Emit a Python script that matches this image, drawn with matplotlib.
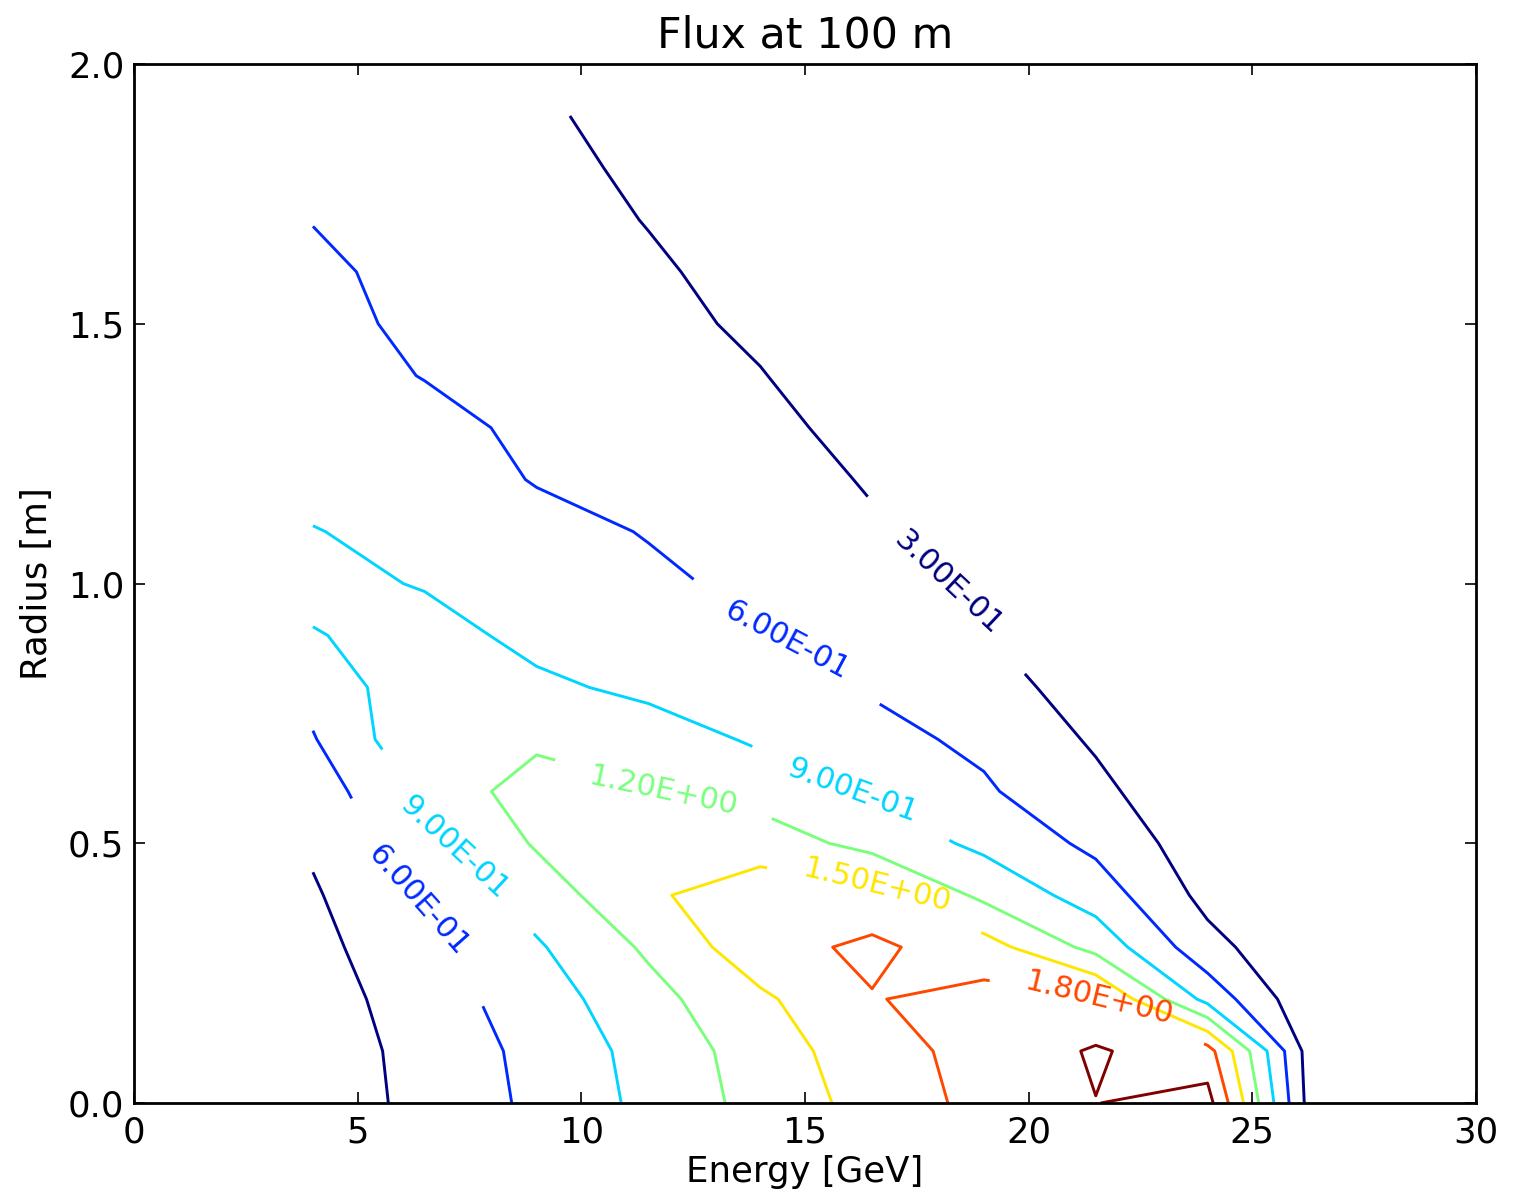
import numpy as np
import matplotlib
matplotlib.use("Agg")
import matplotlib.pyplot as plt

# ---- data ----
energy = [4.0, 6.5, 9.0, 11.5, 14.0, 16.5, 19.0, 21.5, 24.0, 26.5]          # GeV
radius = [0.0, 0.1, 0.2, 0.3, 0.4, 0.5, 0.6, 0.7, 0.8, 0.9,
          1.0, 1.1, 1.2, 1.3, 1.4, 1.5, 1.6, 1.7, 1.8, 1.9]                  # m

# flux[i][j] : radius[i], energy[j]
flux = [
    [0.120, 0.387, 0.661, 0.977, 1.302, 1.611, 1.890, 2.095, 2.210, 0.0],
    [0.133, 0.401, 0.684, 1.005, 1.337, 1.680, 1.900, 2.131, 1.923, 0.0],
    [0.163, 0.449, 0.757, 1.098, 1.446, 1.785, 1.900, 1.850, 0.800, 0.0],
    [0.211, 0.528, 0.866, 1.247, 1.690, 1.860, 1.630, 1.100, 0.400, 0.0],
    [0.266, 0.633, 1.035, 1.455, 1.670, 1.610, 1.130, 0.760, 0.210, 0.0],
    [0.343, 0.806, 1.232, 1.380, 1.360, 1.100, 0.830, 0.530, 0.120, 0.0],
    [0.437, 0.958, 1.364, 1.216, 1.080, 0.865, 0.637, 0.372, 0.050, 0.0],
    [0.580, 1.156, 1.130, 1.060, 0.855, 0.686, 0.540, 0.263, 0.030, 0.0],
    [0.700, 1.110, 0.964, 0.828, 0.740, 0.574, 0.390, 0.200, 0.020, 0.0],
    [0.880, 1.030, 0.806, 0.750, 0.625, 0.483, 0.310, 0.150, 0.010, 0.0],
    [1.000, 0.876, 0.760, 0.664, 0.522, 0.410, 0.250, 0.100, 0.000, 0.0],
    [0.910, 0.820, 0.713, 0.582, 0.490, 0.340, 0.200, 0.060, 0.000, 0.0],
    [0.820, 0.780, 0.580, 0.530, 0.450, 0.270, 0.150, 0.040, 0.000, 0.0],
    [0.774, 0.690, 0.538, 0.470, 0.370, 0.210, 0.110, 0.020, 0.000, 0.0],
    [0.720, 0.590, 0.500, 0.420, 0.310, 0.160, 0.080, 0.010, 0.000, 0.0],
    [0.670, 0.550, 0.470, 0.372, 0.255, 0.120, 0.050, 0.000, 0.000, 0.0],
    [0.635, 0.545, 0.440, 0.337, 0.210, 0.090, 0.030, 0.000, 0.000, 0.0],
    [0.595, 0.520, 0.410, 0.290, 0.170, 0.060, 0.020, 0.000, 0.000, 0.0],
    [0.555, 0.490, 0.375, 0.250, 0.130, 0.040, 0.010, 0.000, 0.000, 0.0],
    [0.520, 0.460, 0.334, 0.220, 0.100, 0.030, 0.010, 0.000, 0.000, 0.0],
]

levels = [0.3, 0.6, 0.9, 1.2, 1.5, 1.8, 2.1]

# approximate places of the inline labels (Energy, Radius)
label_spots = [(18.1, 0.99), (14.6, 0.89), (16.04, 0.60), (6.37, 0.39),
               (7.13, 0.49), (11.83, 0.60), (16.55, 0.40), (21.57, 0.20)]

title = "Flux at 100 m"
xlabel = "Energy [GeV]"
ylabel = "Radius [m]"

# ---- style ----
plt.rcParams.update({
    "font.family": "DejaVu Sans",
    "font.size": 12.8,
    "axes.linewidth": 1.0,
    "xtick.direction": "in",
    "ytick.direction": "in",
    "xtick.top": True,
    "ytick.right": True,
    "xtick.major.size": 4,
    "ytick.major.size": 4,
    "xtick.major.width": 0.6,
    "ytick.major.width": 0.6,
    "xtick.major.pad": 4.5,
    "ytick.major.pad": 3.5,
})

fig = plt.figure(figsize=(7.655, 5.965), dpi=200)
ax = fig.add_axes([134 / 1531, 90 / 1193, (1476 - 134) / 1531, (1103 - 64) / 1193])

E, R = np.meshgrid(np.array(energy), np.array(radius))
Z = np.array(flux)

cs = ax.contour(E, R, Z, levels=levels, cmap="jet", linewidths=1.05,
                vmin=levels[0], vmax=levels[-1])
ax.clabel(cs, fmt="%1.2E", fontsize=11, inline=True, inline_spacing=72,
          manual=label_spots)

ax.set_xlim(0, 30)
ax.set_ylim(0, 2)
ax.set_xticks([0, 5, 10, 15, 20, 25, 30])
ax.set_yticks([0.0, 0.5, 1.0, 1.5, 2.0])
ax.set_yticklabels(["0.0", "0.5", "1.0", "1.5", "2.0"])
ax.set_title(title, fontsize=15.4, pad=6)
ax.set_xlabel(xlabel, labelpad=2)
ax.set_ylabel(ylabel, labelpad=5)

fig.savefig("out.png", dpi=200)
